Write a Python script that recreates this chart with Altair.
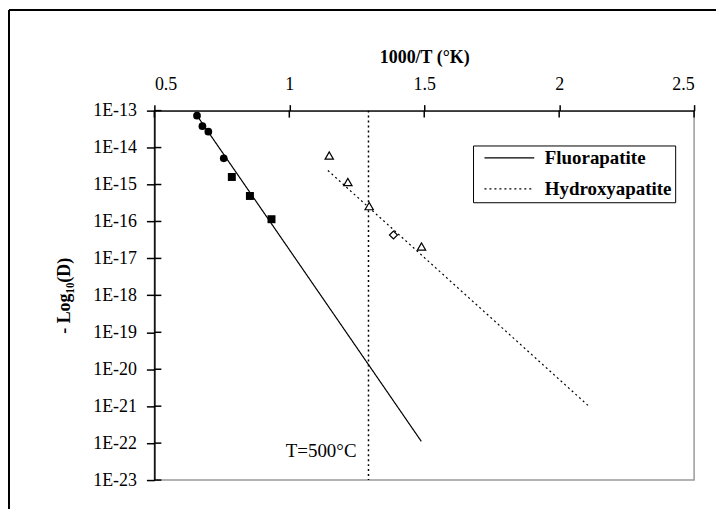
import altair as alt
import pandas as pd

# ---- data ----
fluor_circle_x = [0.658, 0.678, 0.700, 0.757]
fluor_circle_y = [7.3e-14, 3.8e-14, 2.7e-14, 5.1e-15]
fluor_square_x = [0.787, 0.854, 0.934]
fluor_square_y = [1.6e-15, 4.9e-16, 1.15e-16]
hydroxy_tri_x = [1.148, 1.217, 1.296, 1.490]
hydroxy_tri_y = [6.1e-15, 1.17e-15, 2.6e-16, 2.1e-17]
hydroxy_dia_x = [1.386]
hydroxy_dia_y = [4.3e-17]
fluor_line_x = [0.655, 1.489]
fluor_line_y = [7.9e-14, 1.12e-22]
hydroxy_line_x = [1.143, 2.11]
hydroxy_line_y = [2.4e-15, 1.0e-21]
series_names = ["Fluorapatite", "Hydroxyapatite"]
t500_x = [1000 / 773.15]
note_x = [1.249]
note_y = [6.0e-23]
note_text = ["T=500°C"]
x_ticks = [0.5, 1, 1.5, 2, 2.5]
y_ticks = [1e-13, 1e-14, 1e-15, 1e-16, 1e-17, 1e-18, 1e-19, 1e-20, 1e-21, 1e-22, 1e-23]

FONT = "Liberation Serif"
W, H = 542, 371

xs = alt.Scale(domain=[0.5, 2.5], nice=False, zero=False)
ys = alt.Scale(type="log", domain=[1e-23, 1e-13], nice=False)

xaxis = alt.Axis(orient="top", values=x_ticks, format="~g", title="1000/T (°K)",
                 titleFont=FONT, titleFontSize=18, titleFontWeight="bold",
                 titleY=-53, titleBaseline="middle",
                 labelFont=FONT, labelFontSize=18, labelColor="black",
                 tickSize=6, labelPadding=11, grid=False, zindex=1,
                 domainColor="black", tickColor="black", domainWidth=1.5, tickWidth=1.5)
yaxis = alt.Axis(orient="left", values=y_ticks,
                 labelExpr="'1E' + round(log(datum.value)/LN10)",
                 title="- Log₁₀(D)", titleFont=FONT, titleFontSize=18, titleFontWeight="bold",
                 titleX=-90, titleBaseline="middle",
                 labelFont=FONT, labelFontSize=18, labelColor="black",
                 tickSize=8, labelPadding=10, grid=False, zindex=1,
                 domainColor="black", tickColor="black", domainWidth=1.5, tickWidth=1.5)


def X(f):
    return alt.X(f"{f}:Q", scale=xs, axis=xaxis)


def Y(f):
    return alt.Y(f"{f}:Q", scale=ys, axis=yaxis)


lines_df = pd.DataFrame({
    "x": fluor_line_x + hydroxy_line_x,
    "y": fluor_line_y + hydroxy_line_y,
    "series": [series_names[0]] * len(fluor_line_x) + [series_names[1]] * len(hydroxy_line_x),
})

lines = alt.Chart(lines_df).mark_line(color="black", strokeWidth=1.2).encode(
    x=X("x"), y=Y("y"),
    strokeDash=alt.StrokeDash(
        "series:N",
        scale=alt.Scale(domain=series_names, range=[[1, 0], [2, 3]]),
        legend=alt.Legend(
            title=None, orient="none", legendX=320, legendY=35,
            strokeColor="black", fillColor="white", padding=3,
            labelFont=FONT, labelFontSize=19, labelFontWeight="bold", labelColor="black",
            symbolType="M-5,0H5", symbolSize=100, symbolStrokeWidth=1.2,
            symbolStrokeColor="black", symbolOffset=24, labelOffset=26,
            rowPadding=11,
        ),
    ),
)

vline = alt.Chart(pd.DataFrame({"x": t500_x})).mark_rule(
    color="black", strokeDash=[2, 3], strokeWidth=1.5
).encode(x=X("x"))

circles = alt.Chart(pd.DataFrame({"x": fluor_circle_x, "y": fluor_circle_y})).mark_point(
    shape="circle", filled=True, color="black", size=60, opacity=1
).encode(x=X("x"), y=Y("y"))

squares = alt.Chart(pd.DataFrame({"x": fluor_square_x, "y": fluor_square_y})).mark_point(
    shape="square", filled=True, color="black", size=64, opacity=1
).encode(x=X("x"), y=Y("y"))

tris = alt.Chart(pd.DataFrame({"x": hydroxy_tri_x, "y": hydroxy_tri_y})).mark_point(
    shape="triangle-up", fill="white", stroke="black", strokeWidth=1.2, size=70, opacity=1, fillOpacity=1
).encode(x=X("x"), y=Y("y"))

dias = alt.Chart(pd.DataFrame({"x": hydroxy_dia_x, "y": hydroxy_dia_y})).mark_point(
    shape="diamond", fill="white", stroke="black", strokeWidth=1.2, size=65, opacity=1, fillOpacity=1
).encode(x=X("x"), y=Y("y"))

note = alt.Chart(pd.DataFrame({"x": note_x, "y": note_y, "t": note_text})).mark_text(
    align="right", baseline="middle", font=FONT, fontSize=19, color="black"
).encode(x=X("x"), y=Y("y"), text="t:N")

# inner halves of the crossing tick marks
ytick_in = alt.Chart(pd.DataFrame({"v": y_ticks})).mark_rule(color="black", strokeWidth=1.5).encode(
    y=Y("v"), x=alt.value(0), x2=alt.value(7)
)
xtick_in = alt.Chart(pd.DataFrame({"v": x_ticks})).mark_rule(color="black", strokeWidth=1.5).encode(
    x=X("v"), y=alt.value(0), y2=alt.value(7)
)

# outer frame of the chart (left and top edges)
frame_left = alt.Chart(pd.DataFrame({"a": [0]})).mark_rule(color="black", strokeWidth=2).encode(
    x=alt.value(-146), y=alt.value(-101), y2=alt.value(H + 30)
)
frame_top = alt.Chart(pd.DataFrame({"a": [0]})).mark_rule(color="black", strokeWidth=2).encode(
    y=alt.value(-101), x=alt.value(-146), x2=alt.value(W + 25)
)

chart = alt.layer(
    frame_left, frame_top, vline, lines, ytick_in, xtick_in, circles, squares, tris, dias, note
).properties(
    width=W, height=H,
    autosize=alt.AutoSizeParams(type="none"),
    padding={"left": 147, "top": 102, "right": 22, "bottom": 28},
    background="white",
).configure_view(
    stroke="#999999", strokeWidth=1.5
)

chart.save("out.html", embed_options={"renderer": "svg", "actions": False})
